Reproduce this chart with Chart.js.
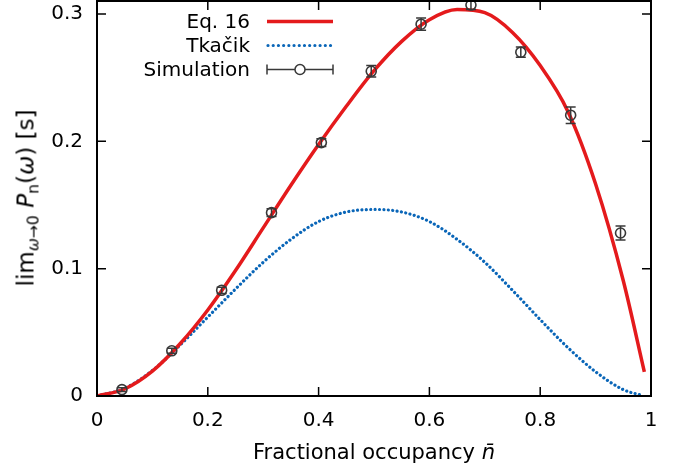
<!DOCTYPE html>
<html lang="en">
<head>
  <meta charset="UTF-8" />
  <title>Zero-frequency noise power vs occupancy</title>
  <script src="https://cdn.jsdelivr.net/npm/chart.js"></script>
  <style>
    body {
      margin: 0;
      background: #fff;
      font-family: "DejaVu Sans";
    }
    .wrap {
      position: relative;
      width: 679px;
      height: 465px;
    }
    canvas {
      position: absolute;
      left: 0;
      top: 0;
    }
    #yTitle {
      position: absolute;
      left: 26px;
      top: 198px;
      transform: translate(-50%, -50%) rotate(-90deg);
      white-space: nowrap;
      font-size: 23px;
      line-height: 23px;
      color: #000;
    }
    #yTitle sub {
      font-size: 68%;
      vertical-align: -0.3em;
      line-height: 0;
    }
    #xTitle {
      position: absolute;
      left: 97px;
      width: 554px;
      top: 442px;
      text-align: center;
      font-size: 21px;
      line-height: 21px;
      white-space: nowrap;
      color: #000;
    }
  </style>
</head>
<body>
  <div class="wrap">
    <canvas id="noiseChart" width="679" height="465"></canvas>
    <div id="yTitle">lim<sub><i>ω</i>→0</sub> <i>P</i><sub>n</sub>(<i>ω</i>) [s]</div>
    <div id="xTitle">Fractional occupancy <i>n̄</i></div>
  </div>

  <script>
    // Eq. 16 curve
    const eqX = [0, 0.05, 0.1, 0.15, 0.2, 0.25, 0.3, 0.35, 0.4, 0.45, 0.5, 0.55, 0.6, 0.65, 0.7, 0.75, 0.8, 0.85, 0.9, 0.95, 0.988];
    const eqY = [0, 0.0055, 0.0195, 0.041, 0.0675, 0.0985, 0.132, 0.1655, 0.1975, 0.2275, 0.2555, 0.2785, 0.2955, 0.3035, 0.301, 0.2855, 0.2595, 0.2235, 0.1665, 0.0905, 0.019];

    // Tkacik curve
    const tkX = [0, 0.05, 0.1, 0.15, 0.2, 0.25, 0.3, 0.35, 0.4, 0.45, 0.5, 0.55, 0.6, 0.65, 0.7, 0.75, 0.8, 0.85, 0.9, 0.95, 0.985];
    const tkY = [0, 0.006, 0.020, 0.040, 0.062, 0.084, 0.105, 0.123, 0.137, 0.1445, 0.1465, 0.1445, 0.137, 0.123, 0.105, 0.083, 0.060, 0.038, 0.019, 0.005, 0.0003];

    // simulation points with error bars
    const simX = [0.045, 0.135, 0.225, 0.315, 0.405, 0.495, 0.585, 0.675, 0.765, 0.855, 0.945];
    const simY = [0.005, 0.0355, 0.083, 0.144, 0.199, 0.255, 0.292, 0.307, 0.270, 0.2205, 0.128];
    const simErr = [0.0015, 0.002, 0.0025, 0.003, 0.003, 0.0045, 0.0048, 0.0035, 0.004, 0.0065, 0.0055];

    const xTicks = [0, 0.2, 0.4, 0.6, 0.8, 1];
    const yTicks = [0, 0.1, 0.2, 0.3];

    const RED = "#e41a1c";
    const BLUE = "#0a66b8";
    const GREY = "#383838";
    const FONT = "DejaVu Sans";

    const toPts = (xs, ys) => xs.map((x, i) => ({ x: x, y: ys[i] }));

    // inward ticks on all four sides + frame
    const framePlugin = {
      id: "frame",
      afterDraw(chart) {
        const { ctx, chartArea: a, scales } = chart;
        const len = 9;
        ctx.save();
        ctx.strokeStyle = "#000";
        ctx.lineWidth = 1.5;
        ctx.beginPath();
        xTicks.forEach(v => {
          const px = scales.x.getPixelForValue(v);
          ctx.moveTo(px, a.bottom); ctx.lineTo(px, a.bottom - len);
          ctx.moveTo(px, a.top); ctx.lineTo(px, a.top + len);
        });
        yTicks.forEach(v => {
          const py = scales.y.getPixelForValue(v);
          ctx.moveTo(a.left, py); ctx.lineTo(a.left + len, py);
          ctx.moveTo(a.right, py); ctx.lineTo(a.right - len, py);
        });
        ctx.stroke();
        ctx.lineWidth = 2;
        ctx.strokeRect(a.left, a.top, a.right - a.left, a.bottom - a.top);
        ctx.restore();
      }
    };

    function drawErrBar(ctx, x, yTop, yBot, cap) {
      ctx.moveTo(x, yTop); ctx.lineTo(x, yBot);
      ctx.moveTo(x - cap, yTop); ctx.lineTo(x + cap, yTop);
      ctx.moveTo(x - cap, yBot); ctx.lineTo(x + cap, yBot);
    }

    const errorBarPlugin = {
      id: "errorBars",
      afterDatasetsDraw(chart) {
        const { ctx, scales } = chart;
        ctx.save();
        ctx.strokeStyle = GREY;
        ctx.lineWidth = 1.5;
        ctx.beginPath();
        simX.forEach((x, i) => {
          const px = scales.x.getPixelForValue(x);
          drawErrBar(ctx, px,
            scales.y.getPixelForValue(simY[i] + simErr[i]),
            scales.y.getPixelForValue(simY[i] - simErr[i]), 5);
        });
        ctx.stroke();
        ctx.restore();
      }
    };

    // key in the upper left, text right-aligned with the sample after it
    const keyPlugin = {
      id: "key",
      afterDraw(chart) {
        const ctx = chart.ctx;
        const textRight = 250, x0 = 267, x1 = 333;
        const rows = [21.5, 45.5, 69.5];
        ctx.save();
        ctx.font = "20px '" + FONT + "'";
        ctx.fillStyle = "#000";
        ctx.textAlign = "right";
        ctx.textBaseline = "middle";
        chart.data.datasets.forEach((ds, i) => {
          ctx.fillText(ds.label, textRight, rows[i] + 1);
        });

        ctx.lineWidth = 3.5;
        ctx.strokeStyle = RED;
        ctx.beginPath();
        ctx.moveTo(x0, rows[0]); ctx.lineTo(x1, rows[0]);
        ctx.stroke();

        ctx.lineWidth = 3.2;
        ctx.strokeStyle = BLUE;
        ctx.lineCap = "round";
        ctx.setLineDash([0.01, 5.2]);
        ctx.beginPath();
        ctx.moveTo(x0 + 1, rows[1]); ctx.lineTo(x1, rows[1]);
        ctx.stroke();
        ctx.setLineDash([]);
        ctx.lineCap = "butt";

        ctx.lineWidth = 1.5;
        ctx.strokeStyle = GREY;
        ctx.beginPath();
        ctx.moveTo(x0, rows[2]); ctx.lineTo(x1, rows[2]);
        ctx.moveTo(x0, rows[2] - 5); ctx.lineTo(x0, rows[2] + 5);
        ctx.moveTo(x1, rows[2] - 5); ctx.lineTo(x1, rows[2] + 5);
        ctx.stroke();
        ctx.fillStyle = "#fff";
        ctx.beginPath();
        ctx.arc((x0 + x1) / 2, rows[2], 5, 0, Math.PI * 2);
        ctx.fill();
        ctx.stroke();
        ctx.restore();
      }
    };

    function fixPadding(scale) {
      scale.paddingTop = 0;
      scale.paddingBottom = 0;
      scale.paddingLeft = 0;
      scale.paddingRight = 0;
    }

    const ctx = document.getElementById("noiseChart").getContext("2d");
    new Chart(ctx, {
      type: "line",
      data: {
        datasets: [
          {
            label: "Eq. 16",
            data: toPts(eqX, eqY),
            borderColor: RED,
            borderWidth: 3.5,
            pointRadius: 0,
            cubicInterpolationMode: "monotone",
            order: 2
          },
          {
            label: "Tkačik",
            data: toPts(tkX, tkY),
            borderColor: BLUE,
            borderWidth: 3.2,
            borderDash: [0.01, 4.4],
            borderCapStyle: "round",
            pointRadius: 0,
            cubicInterpolationMode: "monotone",
            order: 3
          },
          {
            label: "Simulation",
            data: toPts(simX, simY),
            showLine: false,
            pointRadius: 5,
            pointBorderWidth: 1.6,
            pointBorderColor: GREY,
            pointBackgroundColor: "rgba(0,0,0,0)",
            clip: false,
            order: 1
          }
        ]
      },
      options: {
        responsive: false,
        animation: false,
        events: [],
        layout: { autoPadding: false, padding: { top: 1, right: 28, left: 0, bottom: 0 } },
        plugins: {
          legend: { display: false },
          tooltip: { enabled: false }
        },
        scales: {
          x: {
            type: "linear",
            min: 0,
            max: 1,
            grid: { display: false, drawTicks: false },
            border: { display: false },
            afterFit(scale) { scale.height = 69; fixPadding(scale); },
            ticks: {
              stepSize: 0.2,
              padding: 13,
              maxRotation: 0,
              color: "#000",
              font: { family: FONT, size: 20 },
              callback: v => (v === 0 || v === 1) ? String(v) : v.toFixed(1)
            }
          },
          y: {
            type: "linear",
            min: 0,
            max: 0.3102,
            grid: { display: false, drawTicks: false },
            border: { display: false },
            afterFit(scale) { scale.width = 97; fixPadding(scale); },
            ticks: {
              stepSize: 0.1,
              includeBounds: false,
              padding: 14,
              color: "#000",
              font: { family: FONT, size: 20 },
              callback: v => v === 0 ? "0" : v.toFixed(1)
            }
          }
        }
      },
      plugins: [framePlugin, errorBarPlugin, keyPlugin]
    });
  </script>
</body>
</html>
